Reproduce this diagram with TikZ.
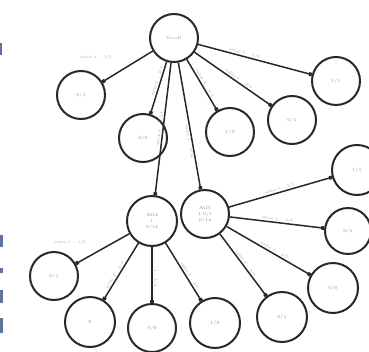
\documentclass[tikz,border=0pt]{standalone}
\usetikzlibrary{arrows.meta}
\definecolor{edgeink}{RGB}{40,40,40}
\definecolor{marginblue}{RGB}{95,115,160}
\begin{document}
\begin{tikzpicture}[x=1pt,y=-1pt,
  vert/.style={circle,draw=edgeink,line width=2pt,minimum size=48pt,inner sep=0pt,
    font=\fontsize{4.5}{5}\selectfont,text=black!45,align=center},
  link/.style={draw=edgeink,line width=1.5pt,-{Square[length=3pt,width=3.6pt]}},
  lbl/.style={font=\fontsize{3.8}{4.2}\selectfont,text=black!40,inner sep=0.5pt},
  cut/.style={fill=marginblue,draw=none}]
\useasboundingbox (0,0) rectangle (369,351);

% vertices
\node[vert] (root) at (174,38) {Go-dl};
\node[vert] (a) at (81,95) {0/1};
\node[vert] (b) at (143,138) {0/0};
\node[vert] (c) at (230,132) {1/0};
\node[vert] (d) at (292,120) {0/1};
\node[vert] (e) at (336,81) {1/1};
\node[vert,minimum size=50pt] (f) at (152,221) {AG4\\[1pt]1\\[1pt]0/14};
\node[vert] (g) at (205,214) {AG5\\[1pt]1 0/1\\[1pt]0/14};
\node[vert] (h) at (54,276) {0/1};
\node[vert,minimum size=50pt] (i) at (90,322) {0};
\node[vert] (j) at (152,328) {0/0};
\node[vert,minimum size=50pt] (k) at (215,323) {1/0};
\node[vert,minimum size=50pt] (l) at (282,317) {0/1};
\node[vert,minimum size=50pt] (m) at (333,288) {0/0};
\node[vert,minimum size=46pt] (n) at (348,231) {0/1};
\node[vert,minimum size=50pt] (o) at (357,170) {1/1};

% links from the top vertex
\draw[link] (root) -- (a);
\node[lbl] (la) at (96,58) {value 1 .. 1/5};
\draw[link] (root) -- node[lbl,sloped,above,pos=0.4] {value 2 .. 2/4} (b);
\draw[link] (root) -- node[lbl,sloped,above,pos=0.5] {value 3 .. 3/5} (c);
\draw[link] (root) -- node[lbl,sloped,above,pos=0.55] {value 4 .. 4/6} (d);
\draw[link] (root) -- node[lbl,sloped,above,pos=0.4] {value 5 .. 5/8} (e);
\draw[link] (root) -- node[lbl,sloped,above,pos=0.5] {value 6 .. 6/14} (f);
\draw[link] (root) -- node[lbl,sloped,below,pos=0.62] {value 7 .. 7/14} (g);

% links from the left hub
\draw[link] (f) -- (h);
\node[lbl] (lh) at (70,243) {value 1 .. 1/5};
\draw[link] (f) -- node[lbl,sloped,above,pos=0.6] {value 2 .. 2/4} (i);
\draw[link] (f) -- node[lbl,sloped,above,pos=0.55] {1 .. 3/4} (j);
\draw[link] (f) -- node[lbl,sloped,above,pos=0.6] {value 3 .. 3/5} (k);

% links from the right hub
\draw[link] (g) -- node[lbl,sloped,above,pos=0.5] {value 1 .. 1/5} (o);
\draw[link] (g) -- node[lbl,sloped,above,pos=0.5] {value 2 .. 2/4} (n);
\draw[link] (g) -- node[lbl,sloped,above,pos=0.55] {value 3 .. 3/5} (m);
\draw[link] (g) -- node[lbl,sloped,above,pos=0.5] {value 4 .. 4/6} (l);

% clipped glyphs along the left margin
\fill[cut] (0,43) rectangle (2,55);
\fill[cut] (0,235) rectangle (2.5,247);
\fill[cut] (0,268) rectangle (2.5,273);
\fill[cut] (0,290) rectangle (2.5,303);
\fill[cut] (0,318) rectangle (2.5,333);
\end{tikzpicture}
\end{document}
